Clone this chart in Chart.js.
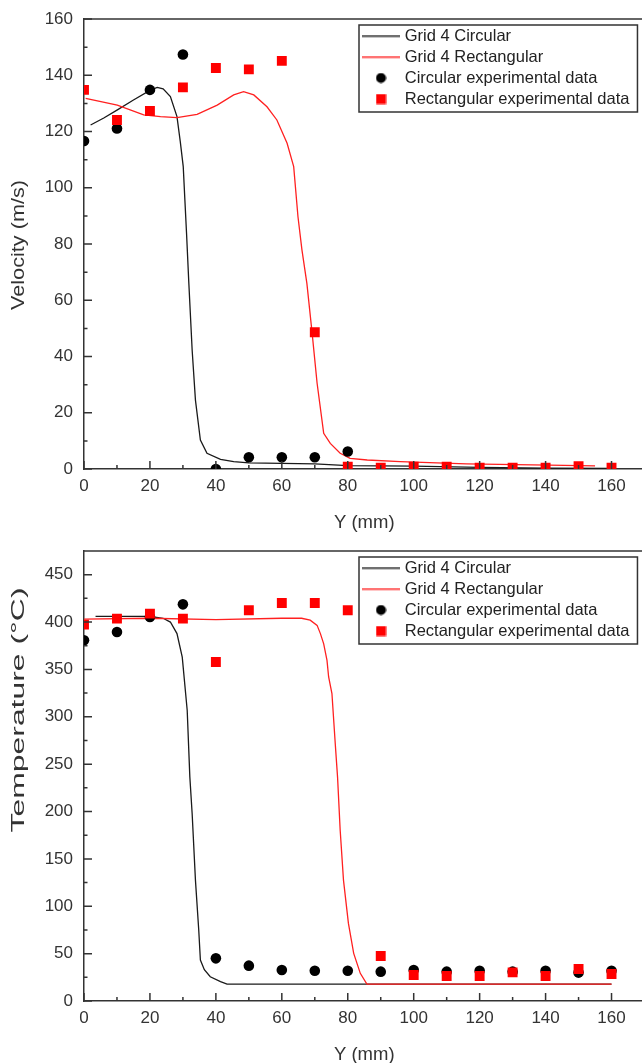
<!DOCTYPE html>
<html>
<head>
<meta charset="utf-8">
<script src="https://cdn.jsdelivr.net/npm/chart.js@4.4.1/dist/chart.umd.min.js"></script>
<style>
  html, body { margin: 0; padding: 0; background: #fff; overflow: hidden; width: 642px; height: 1063px; }
  #wrap { position: relative; width: 642px; height: 1063px; overflow: hidden; }
  canvas { position: absolute; left: 0; }
  #c1 { top: 0; }
  #c2 { top: 532px; }
</style>
</head>
<body>
<div id="wrap">
  <canvas id="c1" width="646" height="532"></canvas>
  <canvas id="c2" width="646" height="532"></canvas>
</div>
<script>
// ---------- tick labels ----------
const xTicks = [0, 20, 40, 60, 80, 100, 120, 140, 160];
const velTicks = [0, 20, 40, 60, 80, 100, 120, 140, 160];
const tempTicks = [0, 50, 100, 150, 200, 250, 300, 350, 400, 450];

// ---------- series names ----------
const seriesNames = ['Grid 4 Circular', 'Grid 4 Rectangular', 'Circular experimental data', 'Rectangular experimental data'];

// ---------- Velocity chart ----------
const velCircSimX = [2, 6, 10, 15, 20, 22.2, 24, 26.2, 28.2, 29.2, 30.1, 30.6, 31.1, 31.8, 32.8, 33.8, 35.3, 37.3, 41.4, 45.4, 50, 60, 70, 80, 100, 120, 140, 160];
const velCircSimV = [122.3, 124.8, 127.6, 131.2, 134.6, 135.7, 135.2, 132.4, 125.3, 116.4, 107.5, 95.6, 83.8, 66, 42.3, 24.5, 10.3, 5.6, 3.4, 2.6, 2.2, 2.0, 1.8, 1.2, 1.0, 0.6, 0.3, 0.2];

const velRectSimX = [0.5, 10.1, 18.1, 23.2, 28.2, 34.3, 40.4, 45.4, 48.4, 51.5, 55.5, 58.5, 61.6, 63.6, 64.9, 66.1, 67.6, 69.2, 70.7, 72.7, 74.7, 77.7, 80.7, 85.9, 95.9, 116, 141, 155];
const velRectSimV = [131.8, 129.4, 125.9, 125.3, 124.9, 126.1, 129.4, 133, 134.2, 133, 128.8, 124.1, 115.8, 107.5, 89.7, 77.9, 66, 48.2, 30.5, 12.7, 9.1, 5.6, 3.8, 3.2, 2.6, 1.8, 1.4, 1.1];

const velCircExpX = [0, 10, 20, 30, 40, 50, 60, 70, 80];
const velCircExpV = [116.6, 121.1, 134.8, 147.4, 0, 4.2, 4.2, 4.2, 6.2];

const velRectExpX = [0, 10, 20, 30, 40, 50, 60, 70, 80, 90, 100, 110, 120, 130, 140, 150, 160];
const velRectExpV = [134.8, 124.1, 127.3, 135.7, 142.6, 142.1, 145.1, 48.6, 0.8, 0.5, 0.8, 0.8, 0.5, 0.5, 0.5, 1.0, 0.5];

// ---------- Temperature chart ----------
const tempCircSimX = [3.5, 10, 20, 24, 26.2, 28.2, 29.8, 31.3, 32.1, 32.8, 33.8, 34.8, 35.3, 36.5, 38.3, 41.4, 43.4, 60, 80, 100, 120, 140, 160];
const tempCircSimT = [406, 406, 406, 404, 400, 387.8, 363, 306.9, 236.6, 198, 127.6, 74.9, 43.2, 33, 25.6, 20.4, 17.9, 17.9, 17.9, 17.9, 17.9, 17.9, 17.9];

const tempRectSimX = [0, 20, 40, 60, 66, 68.6, 70.7, 71.7, 72.7, 73.7, 74.2, 75.2, 76.2, 76.9, 77.7, 78.7, 80.2, 81.8, 83.8, 85.8, 100, 120, 140, 160];
const tempRectSimT = [403, 404, 402.5, 404, 404, 402, 396.5, 387.8, 377, 359.6, 342, 324.5, 271.8, 236.6, 180.3, 127.6, 81.9, 50.3, 29.2, 17.9, 17.9, 17.9, 17.9, 17.9];

const tempCircExpX = [0, 10, 20, 30, 40, 50, 60, 70, 80, 90, 100, 110, 120, 130, 140, 150, 160];
const tempCircExpT = [380.7, 389.5, 405.3, 418.7, 45, 37.3, 32.7, 32, 32, 31, 32.7, 31, 32, 31, 32, 30, 32];

const tempRectExpX = [0, 10, 20, 30, 40, 50, 60, 70, 80, 90, 100, 110, 120, 130, 140, 150, 160];
const tempRectExpT = [397.3, 403.6, 408.9, 403.6, 357.9, 412.4, 420.1, 420.1, 412.4, 47.5, 27.4, 26.4, 26.4, 30.2, 26.4, 33.7, 28.5];

// ---------- helpers ----------
const FONT = '"Liberation Sans", Arial, Helvetica, sans-serif';
const AXIS = '#333333';
const TEXT = '#333333';
const BLACK_LINE = '#1a1a1a';
const RED_LINE = '#ff2020';

function pts(xs, ys) { return xs.map((x, i) => ({ x: x, y: ys[i] })); }
function mids(arr) { const m = []; for (let i = 0; i < arr.length - 1; i++) m.push((arr[i] + arr[i + 1]) / 2); return m; }

function makeLegendImages() {
  const line = (color) => {
    const c = document.createElement('canvas'); c.width = 38; c.height = 3;
    const g = c.getContext('2d'); g.strokeStyle = color; g.lineWidth = 1.5;
    g.beginPath(); g.moveTo(0, 1.5); g.lineTo(38, 1.5); g.stroke(); return c;
  };
  const dot = document.createElement('canvas'); dot.width = 11; dot.height = 11;
  { const g = dot.getContext('2d'); g.fillStyle = '#000'; g.beginPath(); g.arc(5.5, 5.5, 5, 0, Math.PI * 2); g.fill(); }
  const sq = document.createElement('canvas'); sq.width = 11; sq.height = 11;
  { const g = sq.getContext('2d'); g.fillStyle = '#ff0000'; g.fillRect(0.5, 0.5, 10, 10); }
  return [line(BLACK_LINE), line(RED_LINE), dot, sq];
}
const LEG_IMGS = makeLegendImages();

const decor = {
  id: 'decor',
  afterLayout(chart, args, opts) {
    const lg = chart.legend;
    if (lg) {
      const w = lg.width, h = lg.height;
      lg.left = opts.legendLeft; lg.top = opts.legendTop;
      lg.right = lg.left + w; lg.bottom = lg.top + h;
    }
  },
  afterDraw(chart, args, opts) {
    const ctx = chart.ctx, ca = chart.chartArea;
    const xs = chart.scales.x, ys = chart.scales.y;
    ctx.save();
    ctx.strokeStyle = AXIS; ctx.lineWidth = 1.5;
    // top frame line
    ctx.beginPath(); ctx.moveTo(ca.left, ca.top); ctx.lineTo(chart.width, ca.top); ctx.stroke();
    // inward ticks
    ctx.beginPath();
    const xMaj = opts.xMajor, xMin = mids(opts.xMajor);
    xMaj.forEach(v => { const p = xs.getPixelForValue(v); ctx.moveTo(p, ca.bottom); ctx.lineTo(p, ca.bottom - 8); });
    xMin.forEach(v => { const p = xs.getPixelForValue(v); ctx.moveTo(p, ca.bottom); ctx.lineTo(p, ca.bottom - 4); });
    const yMaj = opts.yMajor, yMin = mids(opts.yMajor);
    yMaj.forEach(v => { const p = ys.getPixelForValue(v); ctx.moveTo(ca.left, p); ctx.lineTo(ca.left + 8, p); });
    yMin.forEach(v => { const p = ys.getPixelForValue(v); ctx.moveTo(ca.left, p); ctx.lineTo(ca.left + 3.5, p); });
    ctx.stroke();
    // legend frame
    const lg = chart.legend;
    let l = 359, t = 25, r = 638, b = 112;
    if (lg && lg.legendHitBoxes && lg.legendHitBoxes.length) {
      const hb = lg.legendHitBoxes;
      l = hb[0].left - 6.5;
      t = hb[0].top - 2.75;
      r = Math.max.apply(null, hb.map(h => h.left + h.width)) + 8;
      const last = hb[hb.length - 1];
      b = last.top + last.height + 4.75;
    }
    ctx.lineWidth = 1.5; ctx.strokeStyle = '#333';
    ctx.strokeRect(l, t, r - l, b - t);
    // rotated y-axis title
    ctx.font = opts.yTitleSize + 'px ' + FONT;
    ctx.fillStyle = TEXT; ctx.textAlign = 'center'; ctx.textBaseline = 'middle';
    const w = ctx.measureText(opts.yTitle).width;
    const cy = (ca.top + ca.bottom) / 2 + opts.yTitleShift;
    ctx.translate(opts.yTitleX, cy);
    ctx.rotate(-Math.PI / 2);
    ctx.scale(opts.yTitleLen / w, 1);
    ctx.fillText(opts.yTitle, 0, 0);
    ctx.restore();
  }
};

function buildChart(canvas, cfg) {
  const datasets = [
    { label: seriesNames[0], data: pts(cfg.circSimX, cfg.circSimY), showLine: true, pointRadius: 0, borderColor: BLACK_LINE, backgroundColor: BLACK_LINE, borderWidth: 1.3, tension: 0, order: 3, clip: 0 },
    { label: seriesNames[1], data: pts(cfg.rectSimX, cfg.rectSimY), showLine: true, pointRadius: 0, borderColor: RED_LINE, backgroundColor: RED_LINE, borderWidth: 1.3, tension: 0, order: 2, clip: 0 },
    { label: seriesNames[2], data: pts(cfg.circExpX, cfg.circExpY), showLine: false, pointStyle: 'circle', pointRadius: 5.3, backgroundColor: '#000000', borderColor: '#000000', borderWidth: 0, order: 1, clip: 0 },
    { label: seriesNames[3], data: pts(cfg.rectExpX, cfg.rectExpY), showLine: false, pointStyle: 'rect', pointRadius: 7, backgroundColor: '#ff0000', borderColor: '#ff0000', borderWidth: 0, order: 0, clip: 0 }
  ];
  return new Chart(canvas, {
    type: 'scatter',
    data: { datasets: datasets },
    plugins: [decor],
    options: {
      responsive: false, animation: false, devicePixelRatio: 1,
      events: [],
      layout: { autoPadding: false, padding: { left: 0, top: 19, right: 1.5, bottom: 0 } },
      plugins: {
        tooltip: { enabled: false },
        legend: {
          position: 'chartArea', align: 'start',
          labels: {
            font: { family: FONT, size: 16.5 }, color: '#222', padding: 4.5,
            usePointStyle: true, pointStyleWidth: 31, boxHeight: 16.5,
            generateLabels(chart) {
              const items = Chart.defaults.plugins.legend.labels.generateLabels(chart);
              items.sort((a, b) => a.datasetIndex - b.datasetIndex);
              items.forEach(it => { it.pointStyle = LEG_IMGS[it.datasetIndex]; it.lineWidth = 0; });
              return items;
            }
          }
        },
        decor: {
          legendLeft: 361, legendTop: 23.25,
          xMajor: xTicks, yMajor: cfg.yTicks,
          yTitle: cfg.yTitle, yTitleSize: 18.5, yTitleX: 18.5, yTitleLen: cfg.yTitleLen, yTitleShift: cfg.yTitleShift
        }
      },
      scales: {
        x: {
          type: 'linear', position: 'bottom', min: 0, max: 170,
          grid: { display: false, drawTicks: false },
          border: { display: true, color: AXIS, width: 1.5 },
          ticks: { stepSize: 20, includeBounds: false, autoSkip: false, maxRotation: 0, padding: 7, color: TEXT, font: { family: FONT, size: 17 },
                   callback: v => xTicks.includes(v) ? String(v) : '' },
          title: { display: true, text: 'Y (mm)', color: TEXT, font: { family: FONT, size: 18.5, lineHeight: 1 }, padding: { top: 0, bottom: 0 } },
          afterFit(s) { s.height = 63; s.paddingLeft = 0; s.paddingRight = 0; }
        },
        y: {
          type: 'linear', position: 'left', min: 0, max: cfg.yMax,
          grid: { display: false, drawTicks: false },
          border: { display: true, color: AXIS, width: 1.5 },
          ticks: { stepSize: cfg.yStep, includeBounds: false, autoSkip: false, padding: 11, color: TEXT, font: { family: FONT, size: 17 },
                   callback: v => cfg.yTicks.includes(v) ? String(v) : '' },
          afterFit(s) { s.width = 84; s.paddingTop = 0; s.paddingBottom = 0; }
        }
      }
    }
  });
}

buildChart(document.getElementById('c1'), {
  circSimX: velCircSimX, circSimY: velCircSimV,
  rectSimX: velRectSimX, rectSimY: velRectSimV,
  circExpX: velCircExpX, circExpY: velCircExpV,
  rectExpX: velRectExpX, rectExpY: velRectExpV,
  yMax: 160, yStep: 20, yTicks: velTicks,
  yTitle: 'Velocity (m/s)', yTitleLen: 130, yTitleShift: 1
});

buildChart(document.getElementById('c2'), {
  circSimX: tempCircSimX, circSimY: tempCircSimT,
  rectSimX: tempRectSimX, rectSimY: tempRectSimT,
  circExpX: tempCircExpX, circExpY: tempCircExpT,
  rectExpX: tempRectExpX, rectExpY: tempRectExpT,
  yMax: 475, yStep: 50, yTicks: tempTicks,
  yTitle: 'Temperature (°C)', yTitleLen: 245, yTitleShift: -66
});
</script>
</body>
</html>
